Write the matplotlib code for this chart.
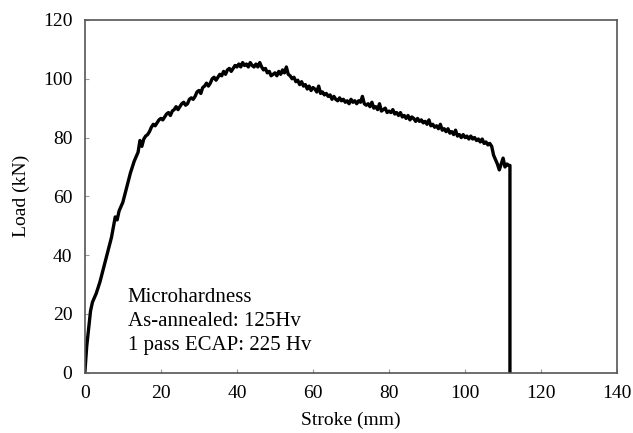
import matplotlib
matplotlib.use('Agg')
import matplotlib.pyplot as plt

# Elastic rise
stroke_rise = [0, 0.5, 1, 1.5, 2, 3, 4, 5, 6, 7, 8, 8.5, 9, 10, 11, 12, 13]
load_rise = [0, 9, 15, 21, 24, 27, 31, 36, 41, 46, 53, 52, 55, 58, 63, 68, 72]

# Plastic part, sampled every 0.5 mm from 14 mm to 111.5 mm (jitter included)
load_plastic = [
    75, 79, 77, 79.5, 80.5, 81, 82, 83.5, 84.5, 84,            # 14 - 18.5
    85, 86, 86.5, 86, 87, 88, 88.5, 87.5, 89, 89.5,            # 19 - 23.5
    90.5, 89.5, 90.5, 91.5, 92, 91, 91.5, 93, 93.5, 93,        # 24 - 28.5
    94, 95.5, 96, 95, 97, 97.5, 98.5, 97.5, 98.5, 100,         # 29 - 33.5
    100.5, 99.5, 100.5, 101.5, 101, 102.5, 101.5, 103, 103.5, 102.5,  # 34 - 38.5
    103.5, 104.5, 104, 105, 104, 105.5, 104.5, 105, 104, 105.5,       # 39 - 43.5
    104.5, 104, 105, 104, 105.5, 104, 103, 103.5, 102, 102.5,         # 44 - 48.5
    101, 101.5, 102, 101, 102.5, 101.5, 103, 102, 104, 101.5,         # 49 - 53.5
    101, 100, 100.5, 99, 99.5, 98, 99, 97.5, 98, 96.5,                # 54 - 58.5
    97.5, 96, 97, 96.5, 95.5, 97.5, 95, 95.5, 94.5, 95,               # 59 - 63.5
    94, 94.5, 93, 94, 93, 92.5, 93.5, 92.5, 93, 92,                   # 64 - 68.5
    92.5, 91.5, 93, 92, 92.5, 91.5, 92.5, 92, 94, 91.5,               # 69 - 73.5
    91, 91.5, 90.5, 92, 90, 90.5, 89.5, 91.5, 89, 89.5,               # 74 - 78.5
    90, 88.5, 89, 88.5, 89.5, 88, 88.5, 87.5, 88.5, 87,               # 79 - 83.5
    87.5, 86.5, 87.5, 86, 87, 86.5, 85.5, 86.5, 85.5, 86,             # 84 - 88.5
    85, 85.5, 84.5, 86, 84, 84.5, 83.5, 84, 83, 84.5,                 # 89 - 93.5
    82.5, 83, 82, 83, 81.5, 82, 81, 82.5, 80.5, 81,                   # 94 - 98.5
    80, 81, 80, 80.5, 79.5, 80.5, 79.5, 80, 79, 79.5,                 # 99 - 103.5
    78.5, 79.5, 78, 78.5, 77.5, 78, 77, 74, 72.5, 71,                 # 104 - 108.5
    69, 71, 73, 70, 71, 70.5,                                         # 109 - 111.5
]
stroke_plastic = [14 + 0.5 * i for i in range(len(load_plastic))]

# Fracture: sudden drop at the end of the stroke
stroke_drop = [111.8, 111.8]
load_drop = [70.5, 0]

stroke = stroke_rise + stroke_plastic + stroke_drop
load = load_rise + load_plastic + load_drop

plt.rcParams['font.family'] = ['Liberation Serif', 'DejaVu Serif']

fig = plt.figure(figsize=(6.33, 4.33), dpi=100, facecolor='white')
ax = fig.add_axes([0.134, 0.139, 0.841, 0.815])

ax.plot(stroke, load, color='black', linewidth=2.4)

ax.set_xlim(0, 140)
ax.set_ylim(0, 120)
ax.set_xticks(range(0, 141, 20))
ax.set_yticks(range(0, 121, 20))
ax.tick_params(direction='in', length=3, color='#999999', labelsize=14, pad=9)
for s in ax.spines.values():
    s.set_color('#555555')
    s.set_linewidth(1.2)

ax.set_xlabel('Stroke (mm)', fontsize=14, labelpad=7)
ax.set_ylabel('Load (kN)', fontsize=14, labelpad=9)

ax.text(11.3, 29.0, 'Microhardness\nAs-annealed: 125Hv\n1 pass ECAP: 225 Hv',
        fontsize=15, va='top', ha='left', linespacing=1.38)

fig.savefig('out.png', dpi=100)
